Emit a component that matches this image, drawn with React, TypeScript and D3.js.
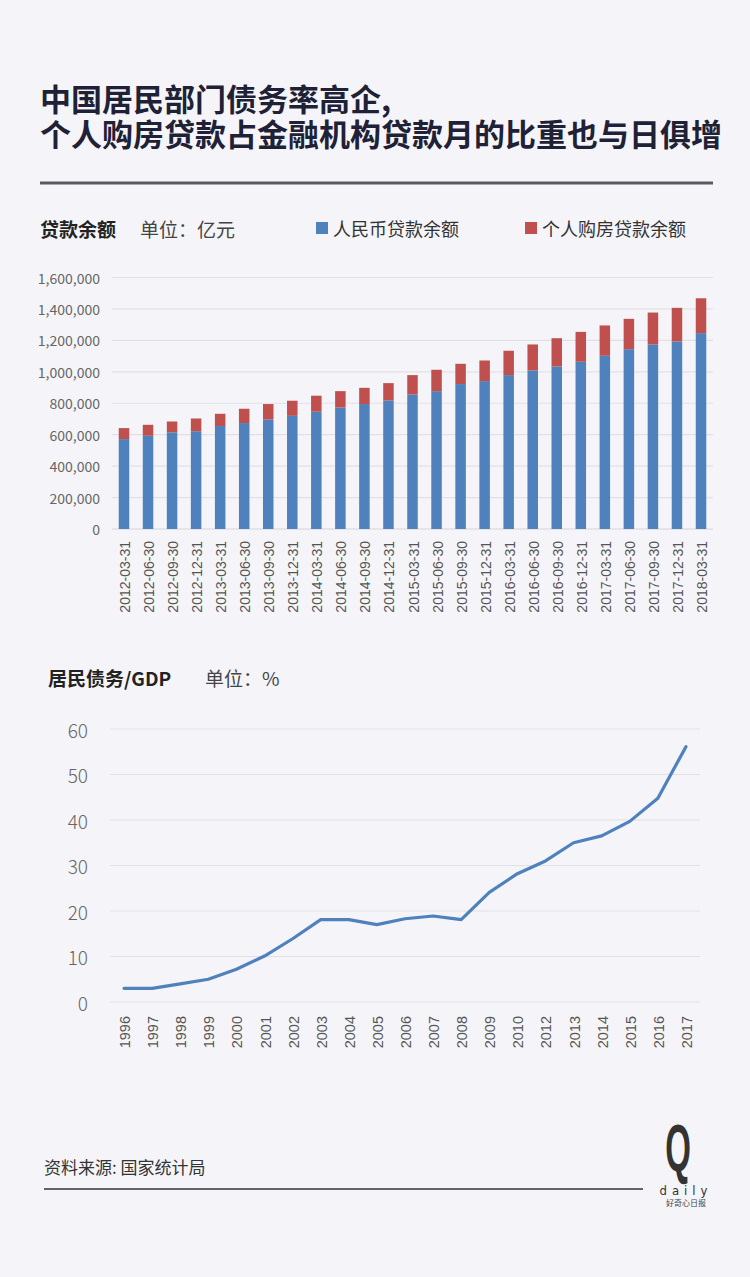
import React from "react";
import * as d3 from "d3";

const dates = [
  "2012-03-31","2012-06-30","2012-09-30","2012-12-31",
  "2013-03-31","2013-06-30","2013-09-30","2013-12-31",
  "2014-03-31","2014-06-30","2014-09-30","2014-12-31",
  "2015-03-31","2015-06-30","2015-09-30","2015-12-31",
  "2016-03-31","2016-06-30","2016-09-30","2016-12-31",
  "2017-03-31","2017-06-30","2017-09-30","2017-12-31",
  "2018-03-31",
];
// 人民币贷款余额 (亿元)
const rmbLoans = [
  572000, 593000, 615000, 622000, 655000, 674000, 697000, 720000,
  746000, 773000, 795000, 818000, 856000, 877000, 922000, 941000,
  979000, 1009000, 1034000, 1064000, 1102000, 1144000, 1174000, 1193000,
  1246000,
];
// 个人购房贷款余额 (亿元)
const housingLoans = [
  70000, 70000, 69000, 81000, 78000, 91000, 98000, 96000,
  102000, 104000, 103000, 110000, 123000, 136000, 129000, 131000,
  155000, 165000, 180000, 190000, 193000, 193000, 203000, 214000,
  222000,
];
const barTicks = [0, 200000, 400000, 600000, 800000, 1000000, 1200000, 1400000, 1600000];

const years = [
  "1996","1997","1998","1999","2000","2001","2002","2003","2004","2005",
  "2006","2007","2008","2009","2010","2012","2013","2014","2015","2016","2017",
];
// 居民债务/GDP (%)
const debtRatio = [3, 3, 4, 5, 7.2, 10.1, 13.9, 18.1, 18.1, 17, 18.3, 18.9, 18.1, 24.1, 28.2, 31, 35, 36.5, 39.7, 44.8, 56.1];
const lineTicks = [0, 10, 20, 30, 40, 50, 60];

const BLUE = "#4f81bd";
const RED = "#c0504d";
const CJK = "'Noto Sans CJK SC', 'Noto Sans', sans-serif";
const LAT = "'Liberation Sans', Arial, sans-serif";
const NARROW = "'Liberation Sans Narrow', 'DejaVu Sans Condensed', 'Liberation Sans', sans-serif";

export default function App() {
  const W = 750, H = 1277;

  const xb = d3.scaleBand<string>().domain(dates).range([112, 713]).paddingInner(0.563).paddingOuter(0.28);
  const yb = d3.scaleLinear().domain([0, 1600000]).range([529, 277.5]);
  const fmt = d3.format(",");

  const xl = d3.scalePoint<string>().domain(years).range([110, 700]).padding(0.5);
  const yl = d3.scaleLinear().domain([0, 60]).range([1002, 729]);
  const line = d3.line<number>().x((_, i) => xl(years[i]) as number).y((d) => yl(d));

  return (
    <svg width={W} height={H} style={{ position: "absolute", left: 0, top: 0, display: "block" }}>
      <rect x={0} y={0} width={W} height={H} fill="#f5f5f9" />
      {/* Title */}
      <text x={40} y={97} fontFamily={CJK} fontWeight={700} fontSize={31} fill="#1f2236" dominantBaseline="central">中国居民部门债务率高企,</text>
      <text x={40} y={132} fontFamily={CJK} fontWeight={700} fontSize={31} fill="#1f2236" dominantBaseline="central">个人购房贷款占金融机构贷款月的比重也与日俱增</text>
      <line x1={40} x2={713} y1={183} y2={183} stroke="#5a5a64" strokeWidth={3} />

      {/* Bar chart header & legend */}
      <text x={40} y={228} fontFamily={CJK} fontWeight={700} fontSize={19} fill="#222" dominantBaseline="central">贷款余额</text>
      <text x={140} y={228} fontFamily={CJK} fontSize={19} fill="#444" dominantBaseline="central">单位：亿元</text>
      <rect x={316} y={222} width={12} height={12} fill={BLUE} />
      <text x={333} y={228} fontFamily={CJK} fontSize={18} fill="#333" dominantBaseline="central">人民币贷款余额</text>
      <rect x={525} y={222} width={12} height={12} fill={RED} />
      <text x={542} y={228} fontFamily={CJK} fontSize={18} fill="#333" dominantBaseline="central">个人购房贷款余额</text>

      {/* Bar chart grid */}
      {barTicks.map((t) => (
        <g key={t}>
          <line x1={112} x2={713} y1={yb(t)} y2={yb(t)} stroke={t === 0 ? "#d4d4da" : "#e0e0e6"} strokeWidth={1.2} />
          <text x={100} y={yb(t)} textAnchor="end" dominantBaseline="central" fontFamily={CJK} fontSize={14} fill="#666">{fmt(t)}</text>
        </g>
      ))}
      {dates.map((d, i) => {
        const x = xb(d) as number;
        const bw = xb.bandwidth();
        const r = rmbLoans[i];
        const h = housingLoans[i];
        return (
          <g key={d}>
            <rect x={x} y={yb(r)} width={bw} height={yb(0) - yb(r)} fill={BLUE} />
            <rect x={x} y={yb(r + h)} width={bw} height={yb(r) - yb(r + h)} fill={RED} />
            <text
              transform={`translate(${x + bw / 2 + 1},${541}) rotate(-90)`}
              textAnchor="end"
              dominantBaseline="central"
              fontFamily={LAT}
              fontSize={14}
              fill="#555"
            >{d}</text>
          </g>
        );
      })}

      {/* Line chart header */}
      <text x={48} y={677} fontFamily={CJK} fontWeight={700} fontSize={19} fill="#222" dominantBaseline="central">居民债务/GDP</text>
      <text x={205} y={677} fontFamily={CJK} fontSize={19} fill="#444" dominantBaseline="central">单位：%</text>

      {lineTicks.map((t) => (
        <g key={t}>
          <line x1={110} x2={700} y1={yl(t)} y2={yl(t)} stroke="#e0e0e6" strokeWidth={1.2} />
          <text x={88} y={yl(t)} textAnchor="end" dominantBaseline="central" fontFamily={CJK} fontWeight={300} fontSize={19} fill="#666">{t}</text>
        </g>
      ))}
      <path d={line(debtRatio) || ""} fill="none" stroke={BLUE} strokeWidth={3.2} strokeLinejoin="round" strokeLinecap="round" />
      {years.map((y) => (
        <text
          key={y}
          transform={`translate(${(xl(y) as number) + 1},${1016}) rotate(-90)`}
          textAnchor="end"
          dominantBaseline="central"
          fontFamily={LAT}
          fontSize={14.5}
          fill="#555"
        >{y}</text>
      ))}

      {/* Footer */}
      <text x={44} y={1166} fontFamily={CJK} fontSize={17} fill="#333" dominantBaseline="central">资料来源: 国家统计局</text>
      <line x1={44} x2={643} y1={1189} y2={1189} stroke="#333" strokeWidth={1.3} />
      <g transform="translate(678,1171) scale(0.5,1)">
        <text x={0} y={0} textAnchor="middle" fontFamily={LAT} fontSize={66} fontWeight={700} fill="#333">Q</text>
      </g>
      <text x={686} y={1195} textAnchor="middle" fontFamily={NARROW} fontSize={13} fill="#333" letterSpacing={5}>daily</text>
      <text x={686} y={1206} textAnchor="middle" fontFamily={CJK} fontSize={8} fill="#444">好奇心日报</text>
    </svg>
  );
}
